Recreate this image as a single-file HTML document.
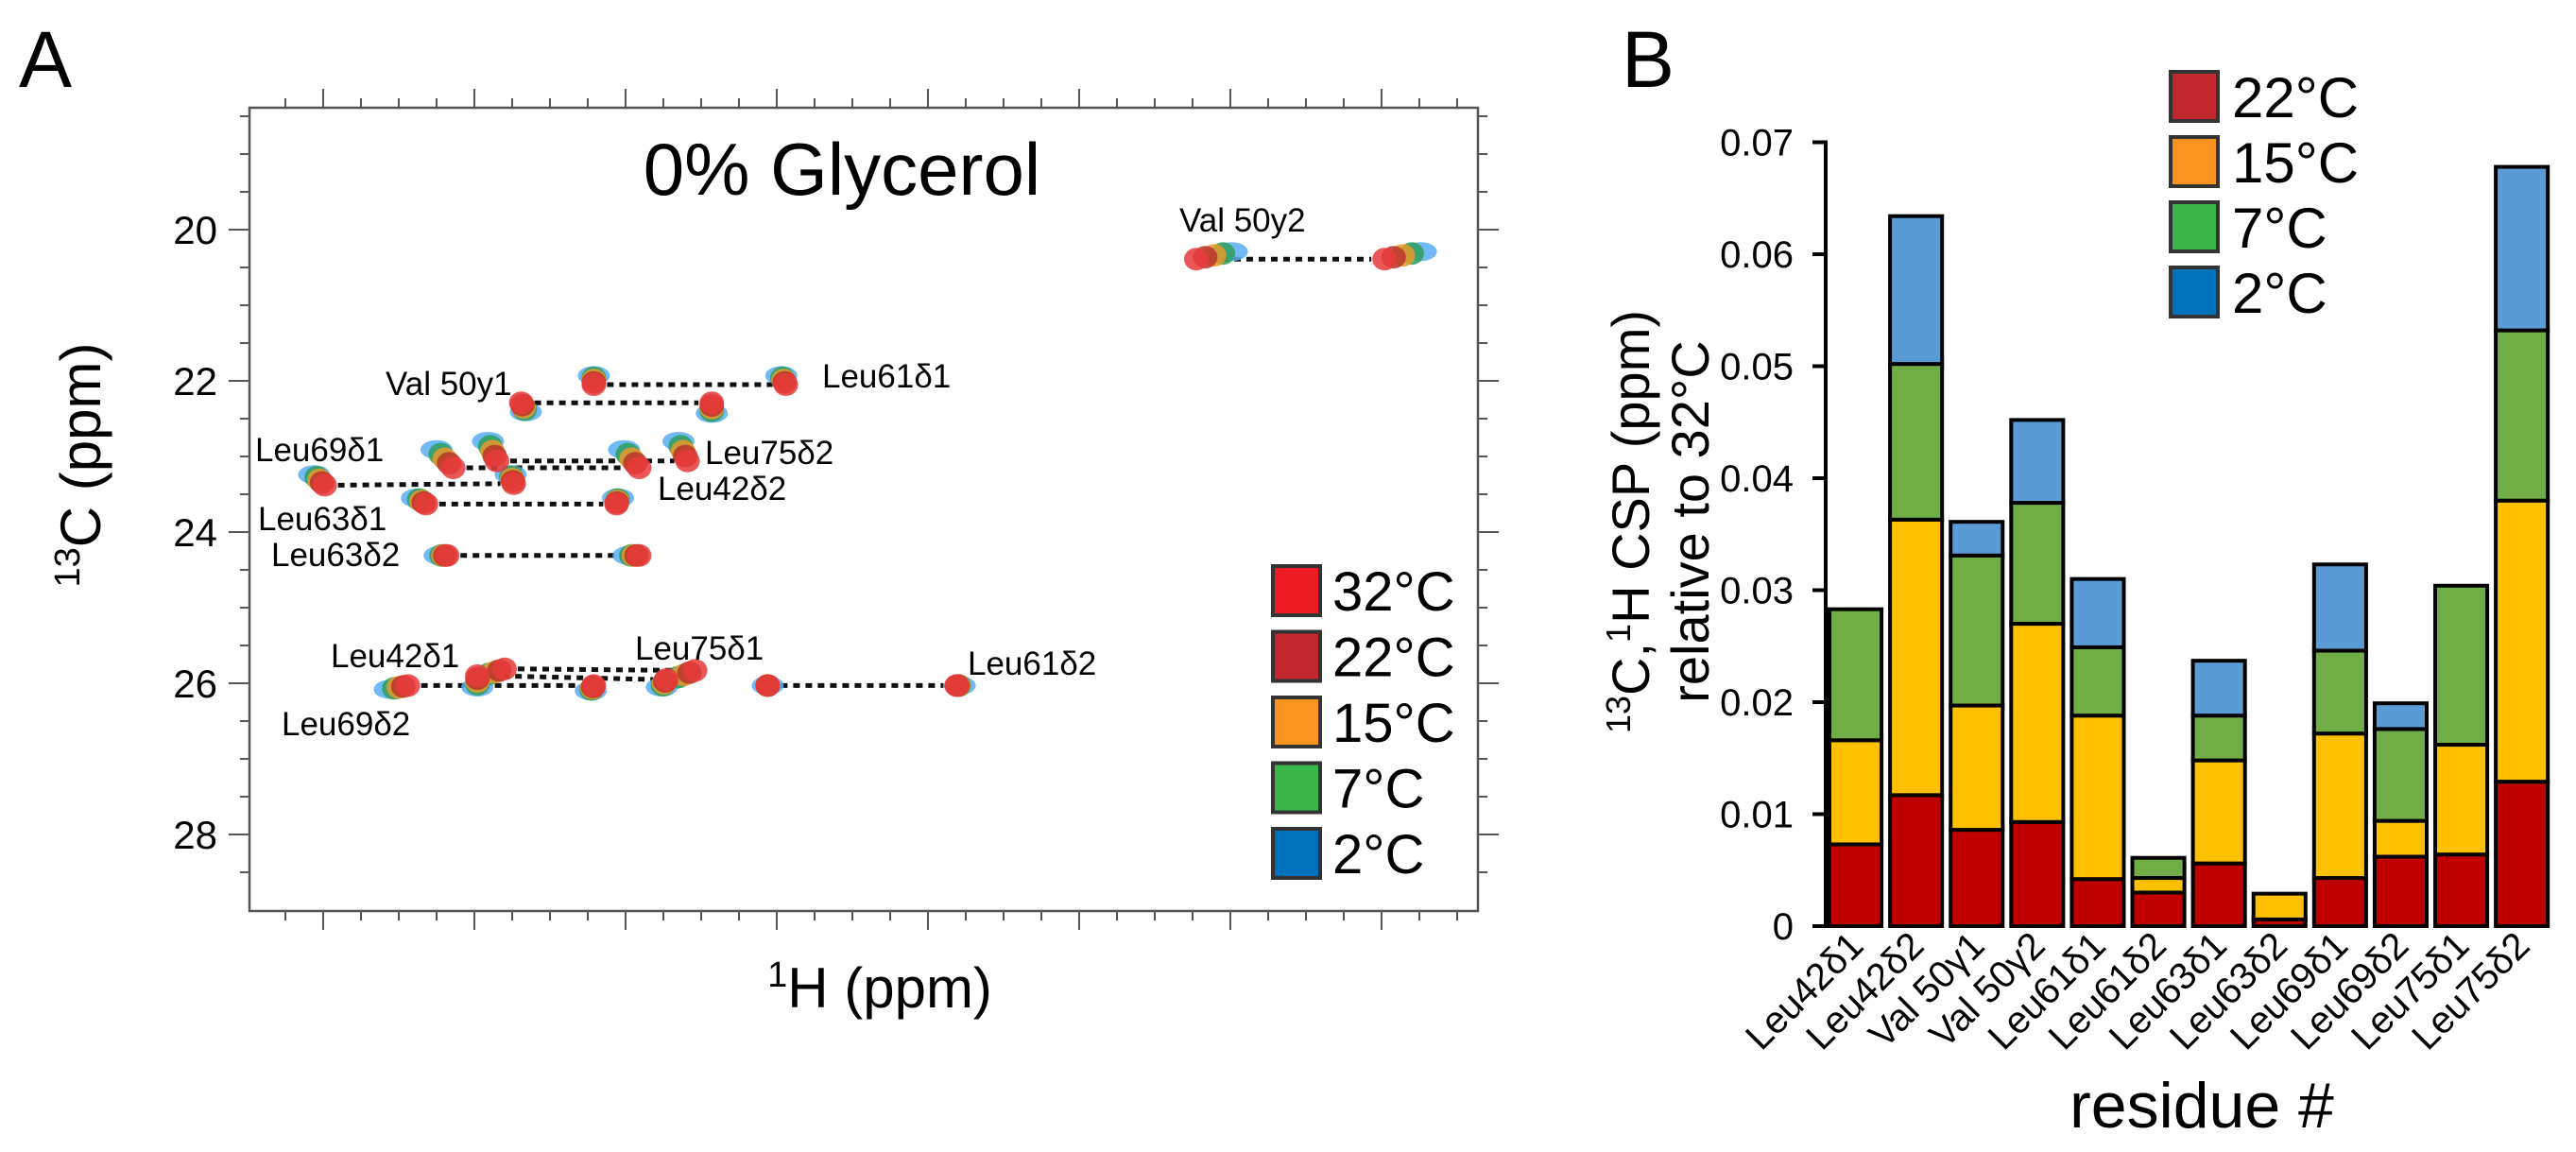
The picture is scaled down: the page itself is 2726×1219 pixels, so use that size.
<!DOCTYPE html>
<html><head><meta charset="utf-8">
<style>
html,body{margin:0;padding:0;background:#fff;}
svg{display:block;font-family:"Liberation Sans",Arial,sans-serif;}
</style></head>
<body>
<svg id="fig" width="2726" height="1219" viewBox="0 0 2726 1219" xmlns="http://www.w3.org/2000/svg">
  <text x="20" y="92" font-size="84">A</text>
  <text x="1716" y="92" font-size="84">B</text>
  <g id="panelA"></g>
  <g id="panelB"></g>
</svg>
<script>
// ---------- Panel A data ----------
const peakLabels = ["Val50y2a","Val50y2b","Val50y1a","Val50y1b","Leu61d1a","Leu61d1b","Leu69d1a","p8","p9","p10","p11","p12","Leu63d1a","Leu63d1b","Leu63d2a","Leu63d2b","Leu69d2a","p18","p19","p20","p21","p22","Leu61d2a","Leu61d2b"];
const h32 = [0.4225,0.298,0.869,0.743,0.821,0.694,0.999,0.914,0.885,0.874,0.791,0.759,0.932,0.806,0.918,0.791,0.944,0.898,0.880,0.821,0.773,0.754,0.706,0.581];
const c32 = [20.39,20.39,22.29,22.29,22.05,22.05,23.38,23.15,23.06,23.36,23.15,23.06,23.63,23.63,24.31,24.31,26.03,25.90,25.81,26.03,25.95,25.83,26.03,26.03];
const h2  = [0.399,0.274,0.866,0.743,0.821,0.697,1.006,0.925,0.891,0.876,0.801,0.765,0.938,0.805,0.923,0.798,0.956,0.898,0.894,0.823,0.776,0.769,0.706,0.579];
const c2  = [20.29,20.29,22.41,22.43,21.93,21.93,23.24,22.91,22.80,23.24,22.91,22.80,23.55,23.55,24.31,24.31,26.08,26.05,25.90,26.10,26.05,25.95,26.03,26.03];
const pairA = [0,2,4,6,7,8,12,14,16,17,18,22];
const pairB = [1,3,5,9,10,11,13,15,19,20,21,23];
const tempLabelsA = ["32°C","22°C","15°C","7°C","2°C"];
const cTicks = [20,22,24,26,28];
const annotations = [
 ["Val 50y2",1248,245],["Val 50y1",408,418],["Leu61δ1",870,410],["Leu69δ1",270,488],
 ["Leu75δ2",746,491],["Leu42δ2",696,529],["Leu63δ1",273,561],["Leu63δ2",287,599],
 ["Leu42δ1",350,706],["Leu75δ1",672,698],["Leu61δ2",1024,714],["Leu69δ2",298,778]];

// ---------- Panel B data ----------
const residues = ["Leu42δ1","Leu42δ2","Val 50γ1","Val 50γ2","Leu61δ1","Leu61δ2","Leu63δ1","Leu63δ2","Leu69δ1","Leu69δ2","Leu75δ1","Leu75δ2"];
const csp22 = [0.0073,0.0117,0.0086,0.0093,0.0042,0.0030,0.0056,0.0006,0.0043,0.0062,0.0064,0.0129];
const csp15 = [0.0093,0.0246,0.0111,0.0177,0.0146,0.0013,0.0092,0.0023,0.0129,0.0032,0.0098,0.0251];
const csp7  = [0.0117,0.0139,0.0134,0.0108,0.0061,0.0018,0.0040,0.0000,0.0074,0.0082,0.0142,0.0152];
const csp2  = [0.0000,0.0132,0.0030,0.0074,0.0061,0.0000,0.0049,0.0000,0.0077,0.0023,0.0000,0.0146];
const yTicksB = [0,0.01,0.02,0.03,0.04,0.05,0.06,0.07];
const tempLabelsB = ["22°C","15°C","7°C","2°C"];

const NS="http://www.w3.org/2000/svg";
function mk(tag,attrs,parent,text){const e=document.createElementNS(NS,tag);for(const k in attrs)e.setAttribute(k,attrs[k]);if(text!==undefined)e.textContent=text;parent.appendChild(e);return e;}

// ---------- Panel A ----------
const A=document.getElementById('panelA');
const FX0=264,FX1=1564,FY0=114,FY1=964;
const xA=h=>342+(1.0-h)*1600;
const yA=c=>243+(c-20)*80;
let f=mk('rect',{x:FX0,y:FY0,width:FX1-FX0,height:FY1-FY0,fill:'none',stroke:'#555','stroke-width':2.5},A);


// top/bottom ticks
for(let i=-2;i<=30;i++){
  const x=342+i*40; if(x<FX0+5||x>FX1-5) continue;
  const maj=(i%4===0); const L=maj?20:10;
  let t1=mk('line',{x1:x,y1:FY0,x2:x,y2:FY0-L,stroke:'#555','stroke-width':2},A);
  
  
  let t2=mk('line',{x1:x,y1:FY1,x2:x,y2:FY1+L,stroke:'#555','stroke-width':2},A);
  
  
}
// left/right ticks each 0.5 ppm
for(let c=18.5;c<=29;c+=0.5){
  const y=yA(c); if(y<FY0+5||y>FY1-5) continue;
  const maj=Math.abs(c-Math.round(c))<1e-6 && Math.round(c)%2===0; const L=maj?22:10;
  let t1=mk('line',{x1:FX0,y1:y,x2:FX0-L,y2:y,stroke:'#555','stroke-width':2},A);
  
  
  let t2=mk('line',{x1:FX1,y1:y,x2:FX1+L,y2:y,stroke:'#555','stroke-width':2},A);
  
  
}
cTicks.forEach(c=>{
  let t=mk('text',{x:230,y:yA(c)+15,'font-size':42,'text-anchor':'end'},A,String(c));
  
  
});
let tt=mk('text',{x:891,y:206,'font-size':78,'text-anchor':'middle'},A,"0% Glycerol");


let yt=mk('text',{transform:'translate(106,492) rotate(-90)','font-size':60,'text-anchor':'middle'},A);


mk('tspan',{'font-size':38,dy:-22},yt,"13");mk('tspan',{dy:22},yt,"C (ppm)");
let xt=mk('text',{x:931,y:1066,'font-size':60,'text-anchor':'middle'},A);


mk('tspan',{'font-size':38,dy:-22},xt,"1");mk('tspan',{dy:22},xt,"H (ppm)");
// dotted lines
pairA.forEach((a,k)=>{
  const b=pairB[k];
  let l=mk('line',{x1:xA(h32[a])+14,y1:yA(c32[a]),x2:xA(h32[b])-14,y2:yA(c32[b]),stroke:'#111','stroke-width':5,'stroke-dasharray':'7 6'},A);
  
  
});
// peaks: draw from 2°C (back) to 32°C (front)
const peakCols=['#e83a3a','#b8322c','#e89a2a','#2f9e5a','#58aef5'];
for(let t=4;t>=0;t--){
  const fr=t/4;
  h32.forEach((h,i)=>{
    const hx=h+(h2[i]-h)*fr, cy=c32[i]+(c2[i]-c32[i])*fr;
    let e=mk('ellipse',{cx:xA(hx),cy:yA(cy),rx:t===4?17:13,ry:t===4?10:12,fill:peakCols[t],'fill-opacity':0.85},A);
    
    
  });
}
annotations.forEach(a=>{
  let t=mk('text',{x:a[1],y:a[2],'font-size':35},A,a[0]);
  
  
});
const legColA=['#ed1c24','#c1272d','#f7931e','#39b54a','#0071bc'];
tempLabelsA.forEach((lab,i)=>{
  const y=599+i*69.5;
  let r=mk('rect',{x:1347,y:y,width:50,height:52,fill:legColA[i],stroke:'#333','stroke-width':4},A);
  
  
  let t=mk('text',{x:1410,y:y+47,'font-size':58},A,lab);
  
  
});

// ---------- Panel B ----------
const B=document.getElementById('panelB');
const AX=1932,Y0=980,PPU=118.5/0.01;
const yB=v=>Y0-v*PPU;
const pitch=64.1;
const xB=i=>AX+i*pitch;
let ax=mk('line',{x1:AX,y1:yB(0.07)-2,x2:AX,y2:Y0+2,stroke:'#000','stroke-width':4},B);


yTicksB.forEach(v=>{
  let l=mk('line',{x1:AX-14,y1:yB(v),x2:AX,y2:yB(v),stroke:'#000','stroke-width':4},B);
  
  
  let t=mk('text',{x:1898,y:yB(v)+14,'font-size':40,'text-anchor':'end'},B,v===0?"0":v.toFixed(2));
  
  
});
const series=[csp22,csp15,csp7,csp2];
const barCols=['#c00000','#ffc000','#70ad47','#5b9bd5'];
residues.forEach((r,i)=>{
  let base=0;
  series.forEach((s,k)=>{
    const v=s[i];
    if(v>0){
      let rc=mk('rect',{x:xB(i)+4,y:yB(base+v),width:pitch-9,height:v*PPU,fill:barCols[k],stroke:'#000','stroke-width':4},B);
      
      
    }
    base+=v;
  });
  const cx=xB(i)+pitch/2;
  let t=mk('text',{transform:`translate(${cx+10},${1003}) rotate(-45)`,'font-size':40,'text-anchor':'end'},B,r);
  
  
});
let bxt=mk('text',{x:2330,y:1193,'font-size':68,'text-anchor':'middle'},B,"residue #");


let byt=mk('text',{transform:'translate(1745,552) rotate(-90)','font-size':56,'text-anchor':'middle'},B);


mk('tspan',{'font-size':36,dy:-20},byt,"13");mk('tspan',{dy:20},byt,"C,");
mk('tspan',{'font-size':36,dy:-20},byt,"1");mk('tspan',{dy:20},byt,"H CSP (ppm)");
let byt2=mk('text',{transform:'translate(1808,552) rotate(-90)','font-size':56,'text-anchor':'middle'},B,"relative to 32°C");


const legColB=['#c1272d','#f7931e','#39b54a','#0071bc'];
tempLabelsB.forEach((lab,i)=>{
  const y=76+i*69;
  let r=mk('rect',{x:2297,y:y,width:50,height:52,fill:legColB[i],stroke:'#333','stroke-width':4},B);
  
  
  let t=mk('text',{x:2362,y:y+48,'font-size':60},B,lab);
  
  
});
</script>
</body></html>
